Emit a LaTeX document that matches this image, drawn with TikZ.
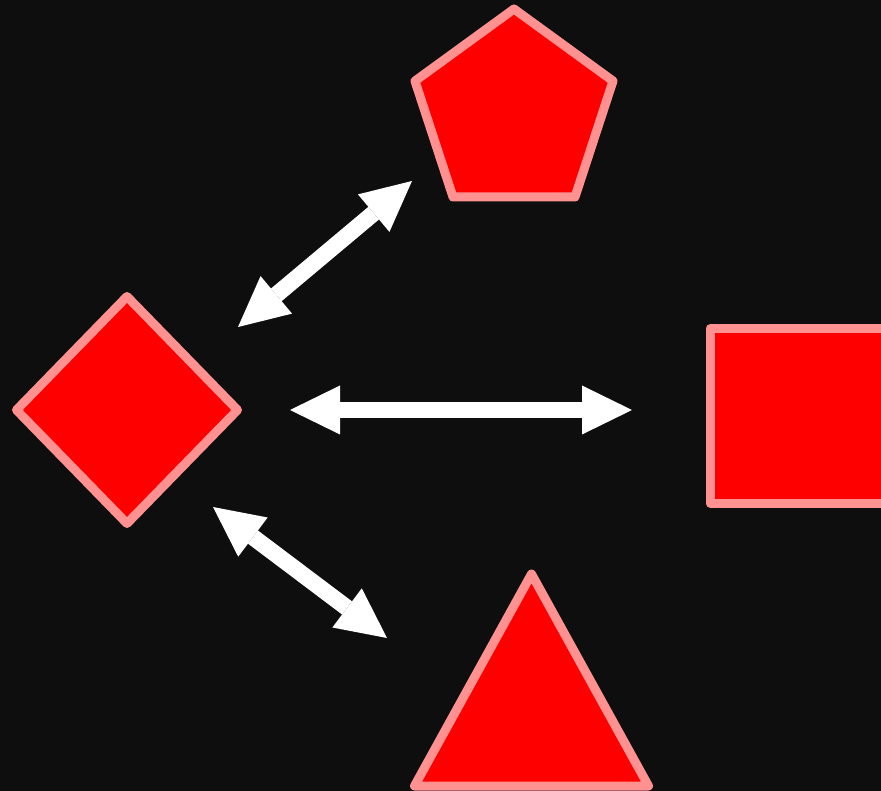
\documentclass[tikz,border=0pt]{standalone}
\usetikzlibrary{arrows.meta}
\definecolor{bgc}{HTML}{0E0E0E}
\definecolor{shapefill}{HTML}{FF0000}
\definecolor{shapeedge}{HTML}{FF9191}
\tikzset{
  shapestyle/.style={fill=shapefill, draw=shapeedge, line width=9pt, line join=round},
  bigarrow/.style={draw=white, line width=16.5pt,
    {Triangle[length=50pt,width=49pt,line width=0pt,fill=white]}-{Triangle[length=50pt,width=49pt,line width=0pt,fill=white]}}
}
\begin{document}
\begin{tikzpicture}[x=1pt,y=-1pt]
\fill[bgc] (0,0) rectangle (881,791);
\useasboundingbox (0,0) rectangle (881,791);
\begin{scope}
\clip (0,0) rectangle (881,791);
% diamond
\draw[shapestyle] (127,296.5) -- (237.5,410) -- (127,523.5) -- (16.5,410) -- cycle;
\coordinate (diamond) at (127,410);
% pentagon
\draw[shapestyle] (514,9) -- (613,81) -- (575,197) -- (453,197) -- (415,81) -- cycle;
\coordinate (pentagon) at (514,113);
% rectangle
\draw[shapestyle] (710,328.5) rectangle (900,503);
\coordinate (square) at (800,416);
% triangle
\draw[shapestyle] (531.5,574) -- (648.5,786) -- (414.5,786) -- cycle;
\coordinate (triangle) at (531.5,700);
% arrow ends
\coordinate (h1) at (290,410);
\coordinate (h2) at (632,410);
\coordinate (u1) at (238,327);
\coordinate (u2) at (412,181);
\coordinate (l1) at (213,507);
\coordinate (l2) at (387,638);
\draw[bigarrow] (h1) -- (h2);
\draw[bigarrow] (u1) -- (u2);
\draw[bigarrow] (l1) -- (l2);
\end{scope}
\end{tikzpicture}
\end{document}
